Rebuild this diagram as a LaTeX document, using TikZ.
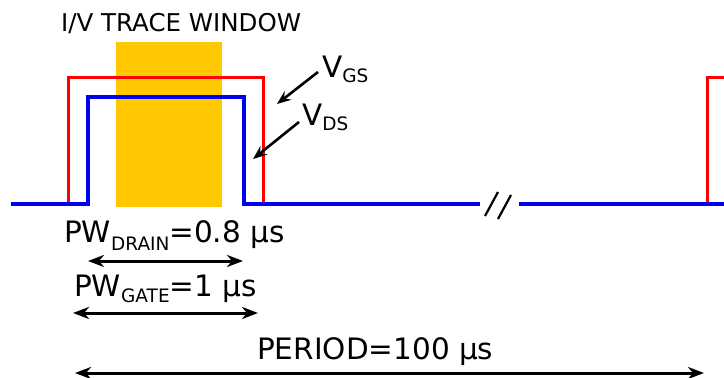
\documentclass[tikz,border=0pt]{standalone}
\usepackage{fontspec}
\setmainfont{DejaVu Sans}
\usetikzlibrary{arrows.meta}
\definecolor{winyel}{RGB}{255,200,0}
\definecolor{gsred}{RGB}{255,0,0}
\definecolor{dsblue}{RGB}{0,0,240}
\newcommand{\bigtxt}{\fontsize{29.5}{31}\selectfont}
\newcommand{\subtxt}{\fontsize{18.5}{19}\selectfont}
\tikzset{
  lbl/.style={inner sep=0pt, anchor=base west, text=black},
  gstrace/.style={draw=gsred, line width=3pt, line join=miter},
  dstrace/.style={draw=dsblue, line width=3.6pt, line join=miter},
  dimarrow/.style={line width=3pt, {Stealth[length=16pt,width=12pt,inset=5pt]}-{Stealth[length=16pt,width=12pt,inset=5pt]}},
  ptrarrow/.style={line width=2.6pt, -{Stealth[length=14pt,width=11pt,inset=5pt]}},
  breakmark/.style={line width=2.2pt, draw=black}
}
\begin{document}
\begin{tikzpicture}[x=1pt,y=-1pt]
\useasboundingbox (0,0) rectangle (724,378);
% trace window
\fill[winyel] (116,42) rectangle (222,207);
% gate pulse (red)
\draw[gstrace] (40,204) -- (68,204) -- (68,77) -- (263,77) -- (263,204);
\draw[gstrace] (707,204) -- (707,77) -- (726,77);
% drain pulse (blue)
\draw[dstrace] (11,204) -- (88,204) -- (88,97) -- (244,97) -- (244,204) -- (480,204);
\draw[dstrace] (519,204) -- (726,204);
% break marks
\draw[breakmark] (485,216) -- (498,192);
\draw[breakmark] (498,219) -- (511,195);
% labels
\node[lbl] (title) at (61,31) {\fontsize{24.5}{26}\selectfont I/V TRACE WINDOW};
\node[lbl] (vgs) at (322,77) {\bigtxt V\raisebox{-5pt}{\subtxt GS}};
\node[lbl] (vds) at (302,125) {\bigtxt V\raisebox{-5pt}{\subtxt DS}};
\node[lbl] (pwd) at (64,242) {\bigtxt PW\raisebox{-8pt}{\subtxt DRAIN}=0.8 µs};
\node[lbl] (pwg) at (74,296) {\bigtxt PW\raisebox{-6pt}{\subtxt GATE}=1 µs};
\node[lbl] (per) at (257,359) {\bigtxt PERIOD=100 µs};
% pointer arrows
\coordinate (gsfrom) at (318,72);
\coordinate (gsto) at (277,104);
\coordinate (dsfrom) at (299,122);
\coordinate (dsto) at (253,159);
\draw[ptrarrow] (gsfrom) -- (gsto);
\draw[ptrarrow] (dsfrom) -- (dsto);
% dimension arrows
\coordinate (d1) at (88,261);
\coordinate (d2) at (243,261);
\coordinate (g1) at (73,313);
\coordinate (g2) at (258,313);
\coordinate (p1) at (75,373);
\coordinate (p2) at (704,373);
\draw[dimarrow] (d1) -- (d2);
\draw[dimarrow] (g1) -- (g2);
\draw[dimarrow] (p1) -- (p2);
\end{tikzpicture}
\end{document}
